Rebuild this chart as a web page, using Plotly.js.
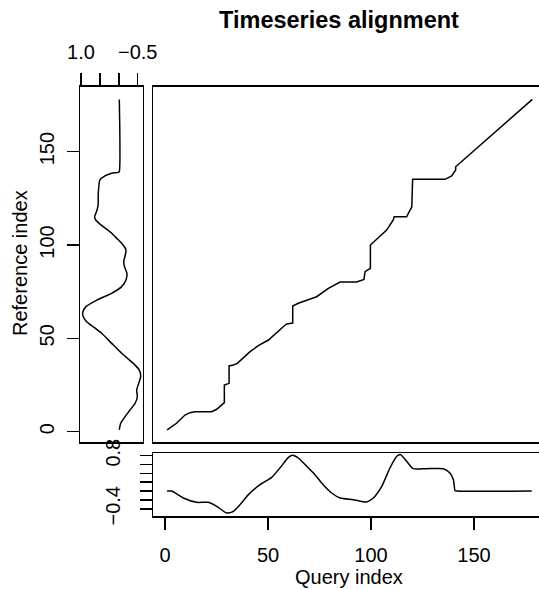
<!DOCTYPE html>
<html>
<head>
<meta charset="utf-8">
<script src="https://cdn.plot.ly/plotly-3.0.1.min.js"></script>
<style>html,body{margin:0;padding:0;background:#fff;}#chart{width:539px;height:589px;}</style>
</head>
<body>
<div id="chart"></div>
<script>
// Reference series (left panel): index and value
var refIndex = [1, 4.5, 8, 11.6, 15.2, 18.7, 22.3, 25.9, 29.5, 33, 36.6, 42, 47.3, 52.7, 56.2, 58.9, 61.6, 63.8, 67, 70.5, 74.1, 77.7, 81.3, 84.8, 88.4, 91.1, 93.7, 97.3, 100.9, 103.5, 106.3, 109, 111.6, 113.4, 115.2, 117.8, 121, 128.6, 134.8, 137, 138.4, 138.9, 139.3, 178];
var refValue = [-0.013, -0.05, -0.164, -0.296, -0.429, -0.49, -0.473, -0.526, -0.579, -0.543, -0.384, -0.076, 0.188, 0.453, 0.674, 0.85, 0.938, 0.955, 0.87, 0.58, 0.19, -0.076, -0.19, -0.215, -0.15, -0.13, -0.16, -0.19, -0.076, 0.05, 0.188, 0.36, 0.52, 0.61, 0.64, 0.59, 0.55, 0.54, 0.5, 0.365, 0.188, 0.013, -0.013, -0.013];

// Query series (bottom panel)
var queryIndex = [1, 3.2, 8.9, 15.4, 21, 25.1, 29.9, 33.2, 36.4, 40.5, 46.1, 51.8, 55.8, 59.9, 62, 64.7, 68.8, 72.8, 76.8, 80.9, 85, 91.4, 97.9, 101.1, 105.2, 109.2, 112.5, 114.4, 117.3, 120.5, 126.9, 135.1, 138.3, 140, 140.8, 141.6, 178];
var queryValue = [0, 0, -0.157, -0.255, -0.255, -0.345, -0.496, -0.458, -0.308, -0.08, 0.144, 0.311, 0.522, 0.763, 0.81, 0.748, 0.56, 0.37, 0.144, -0.044, -0.157, -0.195, -0.248, -0.157, 0.107, 0.522, 0.786, 0.823, 0.673, 0.506, 0.506, 0.506, 0.41, 0.257, 0.008, 0, 0];

// Warping path
var pathQuery = [1, 4, 5.6, 9.7, 12.1, 14.6, 22.7, 25.1, 28.8, 28.8, 31.1, 31.1, 33.2, 35.1, 41.3, 45.3, 50.2, 57.4, 59.1, 62, 62, 64.7, 68.8, 73.6, 79.3, 85, 93, 96.6, 97.1, 99.7, 99.7, 104.4, 107.6, 110.8, 111.3, 117.3, 118.6, 119.8, 120.2, 135.9, 139.2, 141.1, 141.1, 178.3];
var pathRef   = [1, 3.6, 4.5, 8.9, 10.2, 10.7, 10.7, 12, 15.6, 25, 25.9, 35.2, 35.7, 36.6, 42.9, 46.1, 49.1, 56.2, 57.7, 58.2, 67.3, 68.8, 70.5, 72.3, 76.8, 80.2, 80.2, 81.6, 85.7, 87.5, 100, 104.5, 108, 113.4, 115.2, 115.2, 117.8, 120.5, 135.2, 135.2, 137, 140.2, 141.9, 178];

var idxTicks = [0, 50, 100, 150];
var refTicks = [1, 0.5, 0, -0.5];
var refTickText = ["1.0", "", "", "\u22120.5"];
var qTicks = [-0.4, -0.2, 0, 0.2, 0.4, 0.6, 0.8];
var qTickText = ["\u22120.4", "", "", "", "", "", "0.8"];

var W = 539, H = 589;
function px(x){ return x / W; }
function py(y){ return 1 - y / H; }

var FONT = "Liberation Sans, Arial, sans-serif";
var lineStyle = {color: "black", width: 1.5};

var traces = [
  {x: pathQuery, y: pathRef, xaxis: "x", yaxis: "y", mode: "lines", line: lineStyle, hoverinfo: "skip"},
  {x: refValue, y: refIndex, xaxis: "x2", yaxis: "y2", mode: "lines", line: {color: "black", width: 1.5, shape: "spline", smoothing: 0.6}, hoverinfo: "skip"},
  {x: queryIndex, y: queryValue, xaxis: "x3", yaxis: "y3", mode: "lines", line: {color: "black", width: 1.5, shape: "spline", smoothing: 0.6}, hoverinfo: "skip"}
];

var mainYDomain = [py(442), py(86.7)];
var mainXRange = [-5.83, 181.55];
var mainYRange = [-5.52, 184.8];

var axBase = {showgrid: false, zeroline: false, linecolor: "black", linewidth: 1.5, tickcolor: "black", tickwidth: 1.5, ticklen: 12, fixedrange: true, tickfont: {family: FONT, size: 20, color: "black"}};

function ax(o){ var r = {}; for (var k in axBase) r[k] = axBase[k]; for (var k2 in o) r[k2] = o[k2]; return r; }

var layout = {
  width: W, height: H,
  margin: {l: 0, r: 0, t: 0, b: 0, pad: 0},
  paper_bgcolor: "white", plot_bgcolor: "white",
  showlegend: false,
  font: {family: FONT, size: 20, color: "black"},
  title: {text: "<b>Timeseries alignment</b>", x: px(339), y: py(20), xanchor: "center", yanchor: "middle", font: {family: FONT, size: 23.5, color: "black"}},
  xaxis: ax({domain: [px(153), 1], range: mainXRange, showline: true, mirror: true, ticks: "", showticklabels: false, anchor: "y"}),
  yaxis: ax({domain: mainYDomain, range: mainYRange, showline: true, mirror: false, ticks: "", showticklabels: false, anchor: "x"}),
  xaxis2: ax({domain: [px(80), px(142.7)], range: [1.026, -0.632], side: "top", showline: true, mirror: true, ticks: "outside", tickmode: "array", tickvals: refTicks, ticktext: refTickText, ticklabelstandoff: 6, anchor: "y2"}),
  yaxis2: ax({domain: mainYDomain, range: mainYRange, showline: true, mirror: true, ticks: "outside", tickmode: "array", tickvals: idxTicks, ticktext: idxTicks.map(String), tickangle: -90, ticklabelstandoff: 5, anchor: "x2"}),
  xaxis3: ax({domain: [px(153), 1], range: mainXRange, showline: true, mirror: true, ticks: "outside", tickmode: "array", tickvals: idxTicks, ticktext: idxTicks.map(String), ticklabelstandoff: 8, anchor: "y3"}),
  yaxis3: ax({domain: [py(516), py(453.3)], range: [-0.564, 0.854], showline: true, mirror: false, ticks: "outside", tickmode: "array", tickvals: qTicks, ticktext: qTickText, tickangle: -90, ticklabelstandoff: 12, anchor: "x3"}),
  annotations: [
    {text: "Reference index", x: px(20), y: py(263), xref: "paper", yref: "paper", showarrow: false, textangle: -90, xanchor: "center", yanchor: "middle", font: {family: FONT, size: 20, color: "black"}},
    {text: "Query index", x: px(349), y: py(577), xref: "paper", yref: "paper", showarrow: false, xanchor: "center", yanchor: "middle", font: {family: FONT, size: 20, color: "black"}}
  ]
};

Plotly.newPlot("chart", traces, layout, {staticPlot: true, displayModeBar: false});
</script>
</body>
</html>
